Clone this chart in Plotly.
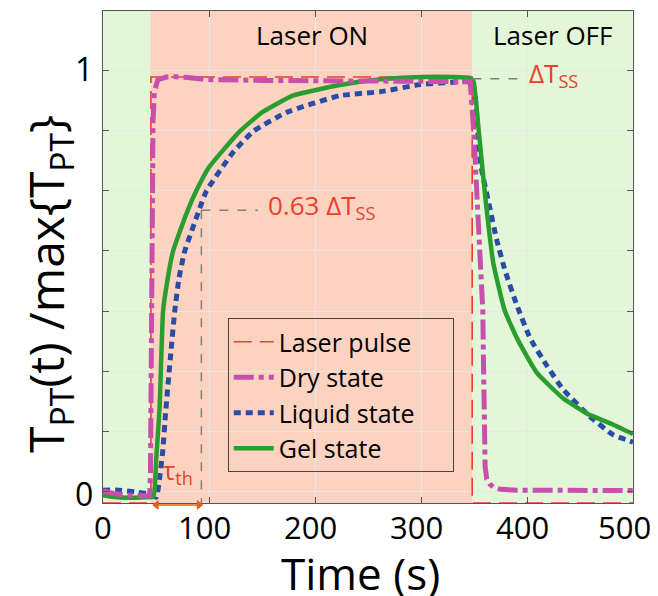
import plotly.graph_objects as go

# ---------------- data ----------------
laser_t = [0, 45.2, 45.2, 348.3, 348.3, 500]
laser_v = [-0.0265, -0.0265, 0.984, 0.984, -0.0265, -0.0265]

dry_t = [0, 10, 22, 35, 44, 44.8, 45.5, 46.3, 47.2, 48.5, 51.9, 60, 66, 80, 98, 150, 223, 300,
         346.4, 349.6, 352.8, 356, 358.3, 359, 359.7, 360.5, 362, 365, 369, 375, 390, 420, 460, 500]
dry_v = [0.002, -0.004, -0.008, -0.009, -0.01, 0.05, 0.3, 0.65, 0.88, 0.95, 0.978, 0.984, 0.985, 0.983, 0.978, 0.976, 0.975, 0.974,
         0.973, 0.86, 0.70, 0.54, 0.43, 0.30, 0.15, 0.06, 0.03, 0.018, 0.01, 0.006, 0.004, 0.003, 0.002, 0.003]

liq_t = [0, 15, 30, 45, 50.3, 53.5, 56.5, 59, 64, 67.6, 71.7, 77, 90.6, 97.6, 122.6, 141.7, 173, 223.6, 261.5, 299, 343.6,
         348, 351, 356, 364, 371.6, 379.4, 390.4, 403, 418.8, 434, 459.6, 481.5, 500]
liq_v = [0.004, 0.004, 0.0, -0.006, -0.013, 0.034, 0.1, 0.186, 0.33, 0.427, 0.507, 0.57, 0.668, 0.714, 0.805, 0.855, 0.90, 0.94, 0.949, 0.966, 0.973,
         0.97, 0.94, 0.78, 0.684, 0.596, 0.524, 0.443, 0.364, 0.299, 0.243, 0.178, 0.135, 0.118]

gel_t = [0, 10, 25, 40, 47, 48.5, 50.3, 53.4, 56.6, 60, 66, 78.7, 88, 100, 129, 150, 179, 223.5, 260, 300, 330, 346,
         349.6, 354.3, 360.6, 368.4, 379, 390.6, 409.4, 434, 456.5, 481.5, 500]
gel_v = [-0.008, -0.012, -0.014, -0.013, -0.012, 0.0, 0.082, 0.2, 0.427, 0.49, 0.57, 0.66, 0.714, 0.77, 0.855, 0.90, 0.94, 0.965, 0.978, 0.984, 0.984, 0.982,
         0.973, 0.861, 0.70, 0.54, 0.43, 0.364, 0.282, 0.222, 0.186, 0.159, 0.137]

x_ticks = [0, 100, 200, 300, 400, 500]
x_label_shift = [0, -5, -5, -5, -5, -9]
y_grid = [k / 7 for k in range(8)]
y_labels = ["0", "1"]
y_label_pos = [-0.0045, 1.005]

laser_on = [44.7, 348.5]
t_ss = 0.98
tau_t = 92.8
tau_v = 0.668
tau_arrow = [47, 94]

FONT = "Open Sans"
RED = "#e8412c"
ORANGE = "#e0601e"
MAG = "#c94fae"
BLUE = "#2b4ca6"
GREEN = "#2a9d2f"
SALMON = "#fcd3c1"
LGREEN = "#e3f6d8"
GREY = "#7f7f7f"

fig = go.Figure()
fig.add_trace(go.Scatter(x=laser_t, y=laser_v, mode="lines", name="Laser pulse", legendrank=1,
                         line=dict(color=RED, width=1.6, dash="18px,8px")))
fig.add_trace(go.Scatter(x=liq_t, y=liq_v, mode="lines",
                         name="Liquid state\u00a0\u00a0\u00a0\u00a0\u00a0",
                         legendrank=3,
                         line=dict(color=BLUE, width=5, dash="7px,5px", shape="spline", smoothing=0.4)))
fig.add_trace(go.Scatter(x=gel_t, y=gel_v, mode="lines", name="Gel state", legendrank=4,
                         line=dict(color=GREEN, width=4.5, shape="spline", smoothing=0.4)))
fig.add_trace(go.Scatter(x=dry_t, y=dry_v, mode="lines", name="Dry state", legendrank=2,
                         line=dict(color=MAG, width=5, dash="20px,5px,5px,5px")))

# arrow under axis (x in data, y in paper units)
ay = -0.004
hx = 5.0   # head length in data units
hy = 0.0085
shapes = [
    dict(type="rect", xref="x", yref="paper", x0=0, x1=laser_on[0], y0=0, y1=1,
         fillcolor=LGREEN, line_width=0, layer="below"),
    dict(type="rect", xref="x", yref="paper", x0=laser_on[0], x1=laser_on[1], y0=0, y1=1,
         fillcolor=SALMON, line_width=0, layer="below"),
    dict(type="rect", xref="x", yref="paper", x0=laser_on[1], x1=500, y0=0, y1=1,
         fillcolor=LGREEN, line_width=0, layer="below"),
    dict(type="line", xref="x", yref="y", x0=laser_on[1], x1=393.6, y0=t_ss, y1=t_ss,
         line=dict(color=GREY, width=1.5, dash="dash")),
    dict(type="line", xref="x", yref="y", x0=tau_t, x1=146, y0=tau_v, y1=tau_v,
         line=dict(color=GREY, width=1.5, dash="dash")),
    dict(type="line", xref="x", yref="y", x0=tau_t, x1=tau_t, y0=tau_v, y1=-0.0265,
         line=dict(color=GREY, width=1.5, dash="dash")),
    dict(type="line", xref="x", yref="paper", x0=tau_arrow[0] + 2, x1=tau_arrow[1] - 2, y0=ay, y1=ay,
         line=dict(color=ORANGE, width=1.6)),
    dict(type="path", xref="x", yref="paper",
         path=f"M {tau_arrow[0]},{ay} L {tau_arrow[0]+hx},{ay+hy} L {tau_arrow[0]+hx},{ay-hy} Z",
         fillcolor=ORANGE, line=dict(color=ORANGE, width=1)),
    dict(type="path", xref="x", yref="paper",
         path=f"M {tau_arrow[1]},{ay} L {tau_arrow[1]-hx},{ay+hy} L {tau_arrow[1]-hx},{ay-hy} Z",
         fillcolor=ORANGE, line=dict(color=ORANGE, width=1)),
]

annotations = [
    dict(text="Laser ON", x=197, y=1.084, xref="x", yref="y", showarrow=False,
         font=dict(size=26, color="black", family=FONT)),
    dict(text="Laser OFF", x=424.5, y=1.084, xref="x", yref="y", showarrow=False,
         font=dict(size=26, color="black", family=FONT)),
    dict(text="ΔT<sub>SS</sub>", x=400, y=0.991, xref="x", yref="y", showarrow=False,
         xanchor="left", yanchor="middle", font=dict(size=26, color=RED, family=FONT)),
    dict(text="0.63 ΔT<sub>SS</sub>", x=154, y=0.677, xref="x", yref="y", showarrow=False,
         xanchor="left", yanchor="middle", font=dict(size=26, color=RED, family=FONT)),
    dict(text="τ<sub>th</sub>", x=70.5, y=0.05, xref="x", yref="y", showarrow=False,
         xanchor="center", yanchor="middle", font=dict(size=26, color=RED, family=FONT)),
    dict(text="Time (s)", x=0.485, y=-0.1423, xref="paper", yref="paper", showarrow=False,
         xanchor="center", yanchor="middle", font=dict(size=44, color="black", family=FONT)),
    dict(text="T<sub>PT</sub>(t) /max{T<sub>PT</sub>}", x=-0.104, y=0.445, xref="paper", yref="paper",
         showarrow=False, textangle=-90, xanchor="center", yanchor="middle",
         font=dict(size=48, color="black", family=FONT)),
]
for lab, pos in zip(y_labels, y_label_pos):
    annotations.append(dict(text=lab, x=-0.016, y=pos, xref="paper", yref="y", showarrow=False,
                            xanchor="right", yanchor="middle",
                            font=dict(size=32, color="black", family=FONT)))
for t, sh in zip(x_ticks, x_label_shift):
    annotations.append(dict(text=str(t), x=t, y=-0.0496, xref="x", yref="paper", showarrow=False,
                            xanchor="center", yanchor="middle", xshift=sh,
                            font=dict(size=31, color="black", family=FONT)))

axis_common = dict(showline=True, linecolor="#555555", linewidth=1, mirror="ticks",
                   ticks="inside", ticklen=6, tickcolor="#555555", automargin=False,
                   showgrid=True, gridcolor="rgba(232,232,232,0.9)", gridwidth=1,
                   zeroline=False, showticklabels=False)

# the page body adds an 8px offset, so the figure is 8px smaller than the window
fig.update_layout(
    width=650, height=588,
    margin=dict(l=95, r=25, t=3, b=93, autoexpand=False),
    paper_bgcolor="white", plot_bgcolor="white",
    font=dict(family=FONT, color="black"),
    shapes=shapes, annotations=annotations,
    xaxis=dict(range=[0, 500], tickvals=x_ticks, **axis_common),
    yaxis=dict(range=[-0.0265, 1.1406], tickvals=y_grid, **axis_common),
    legend=dict(x=0.2354, y=0.376, xanchor="left", yanchor="top",
                bgcolor="rgba(0,0,0,0)", bordercolor="#444444", borderwidth=1,
                font=dict(size=25, color="black", family=FONT),
                traceorder="normal", itemwidth=40),
    showlegend=True,
)

fig.write_html("out.html")
